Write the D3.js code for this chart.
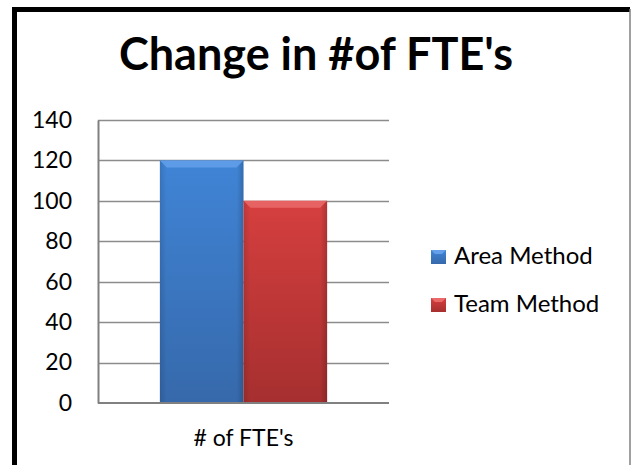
<!DOCTYPE html>
<html>
<head>
<meta charset="utf-8">
<script src="https://cdn.jsdelivr.net/npm/d3@7"></script>
<style>
  body { margin: 0; background: #fff; }
  svg { display: block; font-family: "Lato", "Open Sans", sans-serif; }
</style>
</head>
<body>
<div id="chart"></div>
<script>
// chart data
const categories = ["# of FTE's"];
const seriesNames = ["Area Method", "Team Method"];
const seriesValues = [[120], [100]];
const yTicks = [0, 20, 40, 60, 80, 100, 120, 140];
const chartTitle = "Change in #of FTE's";

const width = 631, height = 465;
const plot = { left: 98, right: 389, top: 120, bottom: 403 };
const colors = ["#4084d6", "#d63f3f"];
const darkColors = ["#3669ab", "#a62f2f"];
const lightColors = ["#64a0ea", "#ea6a6a"];

const svg = d3.select("#chart").append("svg")
    .attr("width", width)
    .attr("height", height);

const defs = svg.append("defs");
seriesNames.forEach((name, i) => {
    const g = defs.append("linearGradient")
        .attr("id", "grad" + i)
        .attr("x1", 0).attr("y1", 0).attr("x2", 0).attr("y2", 1);
    g.append("stop").attr("offset", "0%").attr("stop-color", colors[i]);
    g.append("stop").attr("offset", "100%").attr("stop-color", darkColors[i]);
    const h = defs.append("linearGradient")
        .attr("id", "side" + i)
        .attr("x1", 0).attr("y1", 0).attr("x2", 1).attr("y2", 0);
    h.append("stop").attr("offset", "0%").attr("stop-color", "#000").attr("stop-opacity", 0.12);
    h.append("stop").attr("offset", "8%").attr("stop-color", "#000").attr("stop-opacity", 0);
    h.append("stop").attr("offset", "92%").attr("stop-color", "#000").attr("stop-opacity", 0);
    h.append("stop").attr("offset", "100%").attr("stop-color", "#000").attr("stop-opacity", 0.18);
});

// outer frame
svg.append("path")
    .attr("d", `M14.5,465 L14.5,9.5 L630,9.5`)
    .attr("fill", "none")
    .attr("stroke", "#000")
    .attr("stroke-width", 5);
svg.append("line")
    .attr("x1", 630).attr("x2", 630)
    .attr("y1", 9).attr("y2", 465)
    .attr("stroke", "#808080")
    .attr("stroke-width", 1.5);

// title
svg.append("text")
    .attr("x", 316)
    .attr("y", 70)
    .attr("text-anchor", "middle")
    .attr("font-size", 45)
    .attr("font-weight", 700)
    .attr("fill", "#000")
    .text(chartTitle);

const y = d3.scaleLinear().domain([0, 140]).range([plot.bottom, plot.top]);
const x0 = d3.scaleBand().domain(categories).range([plot.left, plot.right]).paddingInner(0).paddingOuter(0.37);
const x1 = d3.scaleBand().domain(seriesNames).range([0, x0.bandwidth()]);

// gridlines
svg.append("g")
    .selectAll("line")
    .data(yTicks.filter(d => d > 0))
    .join("line")
    .attr("x1", plot.left).attr("x2", plot.right)
    .attr("y1", d => Math.round(y(d)) + 0.5)
    .attr("y2", d => Math.round(y(d)) + 0.5)
    .attr("stroke", "#8c8c8c")
    .attr("stroke-width", 1.3);

// y axis
const yAxis = svg.append("g")
    .attr("transform", `translate(${plot.left},0)`)
    .call(d3.axisLeft(y).tickValues(yTicks).tickSize(0).tickPadding(26));
yAxis.select(".domain").attr("stroke", "#808080").attr("stroke-width", 2);
yAxis.selectAll("text")
    .attr("font-size", 23)
    .attr("font-family", "Lato, 'Open Sans', sans-serif")
    .attr("fill", "#000");

// bars
const barG = svg.append("g");
categories.forEach((cat, ci) => {
    seriesNames.forEach((name, si) => {
        const bx = x0(cat) + x1(name);
        const by = y(seriesValues[si][ci]);
        const bw = x1.bandwidth();
        const bh = y(0) - by;
        barG.append("rect")
            .attr("x", bx).attr("y", by)
            .attr("width", bw).attr("height", bh)
            .attr("fill", `url(#grad${si})`);
        barG.append("rect")
            .attr("x", bx).attr("y", by)
            .attr("width", bw).attr("height", bh)
            .attr("fill", `url(#side${si})`);
        // top bevel
        barG.append("path")
            .attr("d", `M${bx},${by} L${bx + bw},${by} L${bx + bw - 7},${by + 7} L${bx + 7},${by + 7} Z`)
            .attr("fill", lightColors[si])
            .attr("opacity", 0.85);
    });
});

// x axis
svg.append("line")
    .attr("x1", plot.left).attr("x2", plot.right)
    .attr("y1", plot.bottom).attr("y2", plot.bottom)
    .attr("stroke", "#808080")
    .attr("stroke-width", 2);
svg.append("g")
    .selectAll("text")
    .data(categories)
    .join("text")
    .attr("x", d => x0(d) + x0.bandwidth() / 2)
    .attr("y", 446)
    .attr("text-anchor", "middle")
    .attr("font-size", 23)
    .attr("fill", "#000")
    .text(d => d);

// legend
const legend = svg.append("g").attr("transform", "translate(431,250)");
const items = legend.selectAll("g")
    .data(seriesNames)
    .join("g")
    .attr("transform", (d, i) => `translate(0,${i * 48})`);
items.append("rect")
    .attr("width", 15).attr("height", 14)
    .attr("fill", (d, i) => `url(#grad${i})`);
items.append("path")
    .attr("d", "M0,0 L15,0 L11,4 L4,4 Z")
    .attr("fill", (d, i) => lightColors[i]);
items.append("text")
    .attr("x", 23)
    .attr("y", 14)
    .attr("font-size", 24)
    .attr("fill", "#000")
    .text(d => d);
</script>
</body>
</html>
